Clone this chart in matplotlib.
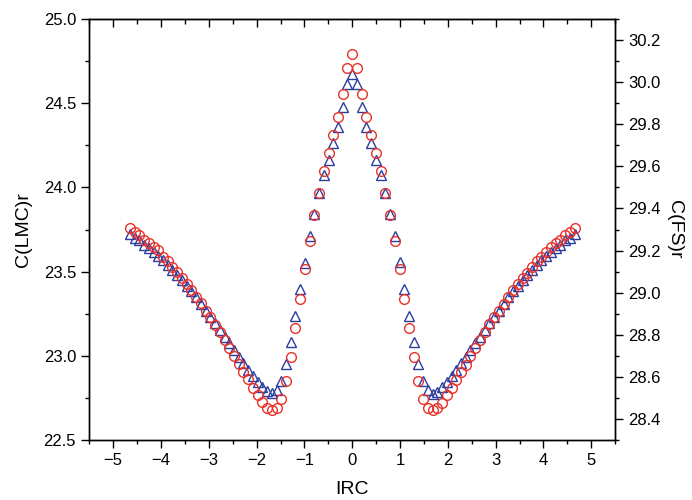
import numpy as np
import matplotlib
matplotlib.use('Agg')
from matplotlib import pyplot as plt
from matplotlib.ticker import MultipleLocator

plt.rcParams['font.family'] = ['Liberation Sans', 'DejaVu Sans']

# IRC coordinate (uniform grid, 95 points)
irc = np.linspace(-4.65, 4.65, 95)

# C(LMC)r  - blue triangles, left axis (from IRC = -4.65 to 4.65)
c_lmc = [23.721, 23.701, 23.685, 23.659, 23.640, 23.619, 23.595, 23.568, 23.542, 23.509,
         23.480, 23.449, 23.417, 23.385, 23.348, 23.307, 23.269, 23.232, 23.193, 23.153,
         23.113, 23.074, 23.034, 22.995, 22.955, 22.916, 22.880, 22.846, 22.816, 22.790,
         22.781, 22.797, 22.852, 22.949, 23.082, 23.234, 23.395, 23.553, 23.711, 23.840,
         23.965, 24.074, 24.163, 24.262, 24.357, 24.476, 24.612,
         24.672,
         24.612, 24.476, 24.357, 24.262, 24.163, 24.074, 23.965, 23.840, 23.711, 23.556,
         23.395, 23.234, 23.080, 22.949, 22.852, 22.795, 22.775, 22.787, 22.816, 22.846,
         22.880, 22.916, 22.955, 22.995, 23.034, 23.074, 23.113, 23.153, 23.193, 23.232,
         23.269, 23.307, 23.348, 23.385, 23.417, 23.449, 23.480, 23.509, 23.542, 23.568,
         23.595, 23.619, 23.640, 23.659, 23.685, 23.701, 23.721]

# C(FS)r - red circles, right axis
c_fs = [29.308, 29.290, 29.275, 29.252, 29.235, 29.216, 29.203, 29.171, 29.149, 29.124,
        29.100, 29.068, 29.041, 29.013, 28.981, 28.949, 28.914, 28.882, 28.848, 28.811,
        28.775, 28.737, 28.699, 28.660, 28.625, 28.589, 28.549, 28.513, 28.481, 28.454,
        28.441, 28.454, 28.497, 28.581, 28.695, 28.830, 28.970, 29.110, 29.243, 29.367,
        29.475, 29.578, 29.663, 29.749, 29.833, 29.943, 30.068,
        30.133,
        30.068, 29.943, 29.833, 29.749, 29.663, 29.578, 29.475, 29.367, 29.243, 29.110,
        28.970, 28.830, 28.695, 28.581, 28.497, 28.454, 28.441, 28.454, 28.478, 28.513,
        28.549, 28.586, 28.625, 28.657, 28.697, 28.737, 28.775, 28.811, 28.851, 28.886,
        28.914, 28.946, 28.981, 29.013, 29.041, 29.068, 29.095, 29.120, 29.148, 29.171,
        29.195, 29.216, 29.235, 29.252, 29.275, 29.290, 29.308]

fig = plt.figure(figsize=(6.92, 5.0), dpi=100)
ax = fig.add_axes([0.129, 0.12, 0.76, 0.842])
ax2 = ax.twinx()

ax.plot(irc, c_lmc, linestyle='none', marker='^', markersize=7.5,
        markerfacecolor='none', markeredgecolor='#2b3ea0', markeredgewidth=1.0)
ax2.plot(irc, c_fs, linestyle='none', marker='o', markersize=7,
         markerfacecolor='none', markeredgecolor='#e8322a', markeredgewidth=1.0)

ax.set_xlim(-5.5, 5.5)
ax.set_ylim(22.5, 25.0)
ax2.set_ylim(28.3, 30.3)

ax.xaxis.set_major_locator(MultipleLocator(1))
ax.xaxis.set_minor_locator(MultipleLocator(0.5))
ax.yaxis.set_major_locator(MultipleLocator(0.5))
ax.yaxis.set_minor_locator(MultipleLocator(0.25))
ax2.yaxis.set_minor_locator(MultipleLocator(0.1))
ax2.set_yticks(np.arange(28.4, 30.21, 0.2))
ax2.set_yticklabels(['%.1f' % v for v in np.arange(28.4, 30.21, 0.2)])

ax.tick_params(axis='x', which='both', direction='out', top=False, labelsize=12)
ax.tick_params(axis='y', which='both', direction='out', right=False, labelsize=12)
ax.tick_params(which='major', length=6, width=1)
ax.tick_params(which='minor', length=2.8, width=1)
ax2.tick_params(axis='y', which='both', direction='out', labelsize=12)
ax2.tick_params(which='major', length=6, width=1)
ax2.tick_params(which='minor', length=2.8, width=1)

# ticks on the top edge pointing inward
top = ax.secondary_xaxis('top')
top.xaxis.set_major_locator(MultipleLocator(1))
top.xaxis.set_minor_locator(MultipleLocator(0.5))
top.tick_params(which='both', direction='in', labeltop=False, width=1)
top.tick_params(which='major', length=6)
top.tick_params(which='minor', length=3.5)

for a in (ax, ax2):
    for s in a.spines.values():
        s.set_linewidth(1.0)

ax.set_xlabel('IRC', fontsize=14, labelpad=9)
ax.set_ylabel('C(LMC)r', fontsize=14, labelpad=8)
ax2.set_ylabel('C(FS)r', fontsize=14, rotation=270, labelpad=16)

fig.savefig('out.png', dpi=100)
